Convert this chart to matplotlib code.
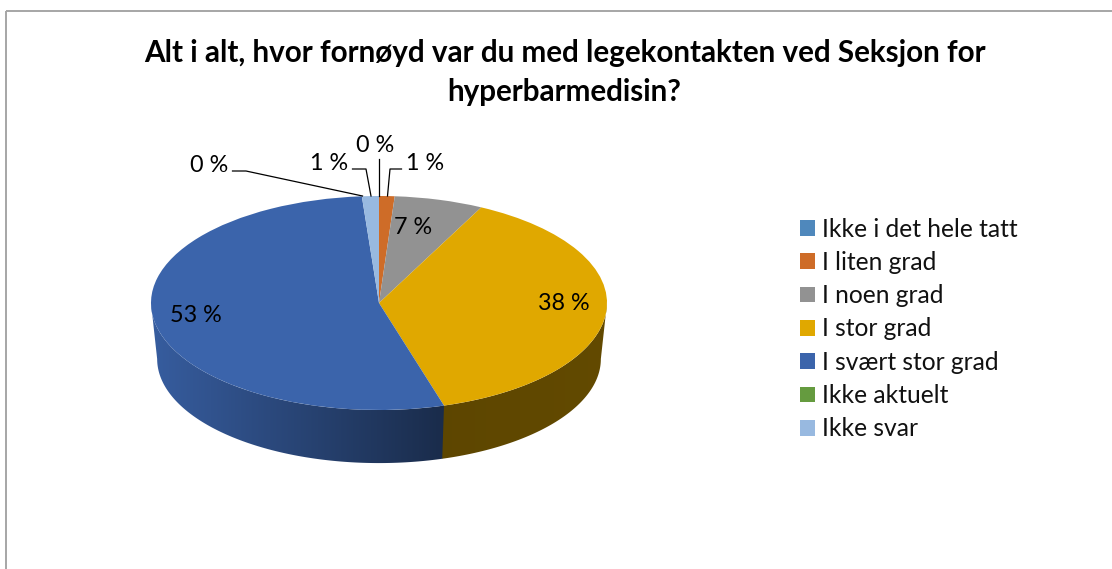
import numpy as np
import matplotlib
matplotlib.use('Agg')
import matplotlib.pyplot as plt
from matplotlib.colors import to_rgb
from matplotlib.patches import Polygon as MplPolygon, Rectangle
from matplotlib.lines import Line2D
from matplotlib.transforms import Affine2D

W, H = 1112, 569

TITLE = "Alt i alt, hvor fornøyd var du med legekontakten ved Seksjon for\nhyperbarmedisin?"
categories = ['Ikke i det hele tatt', 'I liten grad', 'I noen grad', 'I stor grad',
              'I svært stor grad', 'Ikke aktuelt', 'Ikke svar']
values = [0.0, 1.1, 6.3, 38.0, 53.4, 0.0, 1.2]
pct_labels = ['0 %', '1 %', '7 %', '38 %', '53 %', '0 %', '1 %']
colors = ['#4F88BC', '#CE6C28', '#929292', '#E0A800', '#3B64AB', '#659B3F', '#98B9E0']

plt.rcParams['font.family'] = ['Lato', 'DejaVu Sans']

fig = plt.figure(figsize=(W / 100, H / 100), dpi=100)
# pixel coords, y going down like the reference
px = Affine2D().scale(1, -1).translate(0, H)

# pie ellipse centre (379, 303), radii 228 x 107
XLIM = (-1.02, 1.02)
YLIM = (-1.6, 1.02)
left = 379 + XLIM[0] * 228
bottom_px = 303 - YLIM[0] * 107
ax = fig.add_axes([left / W, 1 - bottom_px / H,
                   (XLIM[1] - XLIM[0]) * 228 / W, (YLIM[1] - YLIM[0]) * 107 / H])
wedges, _ = ax.pie(values, colors=colors, startangle=90, counterclock=False, radius=1)

# lower rim of the side wall is a little smaller (perspective)
DROP = 0.523
RIM = 0.973


def wall_color(i, x):
    base = np.array(to_rgb(colors[i]))
    if i == 3:
        return base * (0.41 + 0.03 * x)
    # blue side gets darker going right
    t = np.clip((x + 1) / 1.28, 0, 1)
    return base * (0.93 - 0.49 * t)


for i, w in enumerate(wedges):
    lo, hi = max(w.theta1 + 360, 180), min(w.theta2 + 360, 360)
    if hi <= lo:
        continue
    # tuck the start under the next wall so no seam shows
    lo = max(lo - 0.5, 180)
    angs = np.radians(np.linspace(lo, hi, 200))
    top = np.column_stack([np.cos(angs), np.sin(angs)])
    low = np.column_stack([RIM * np.cos(angs), RIM * np.sin(angs) - DROP])
    shape = MplPolygon(np.vstack([top, low[::-1]]), closed=True, transform=ax.transData,
                       facecolor='none', edgecolor='none')
    ax.add_patch(shape)
    x0, x1 = top[:, 0].min(), top[:, 0].max()
    grad = np.array([[wall_color(i, x) for x in np.linspace(x0, x1, 256)]])
    im = ax.imshow(grad, extent=(x0, x1, -1.6, 0.1), aspect='auto',
                   interpolation='bilinear', zorder=0.5)
    im.set_clip_path(shape)

ax.set_aspect('auto')
ax.set_xlim(*XLIM)
ax.set_ylim(*YLIM)

# chart area border, right and bottom run off the picture
fig.add_artist(Rectangle((5.5, 10.5), 1200, 600, transform=px, fill=False,
                         edgecolor='#A6A6A6', linewidth=1.4))

fig.text(564.5 / W, 1 - 72.5 / H, TITLE, ha='center', va='center', fontsize=21.3,
         fontweight='bold', color='black', linespacing=1.45)

# data labels: index, x, y
label_pos = [(0, 209, 166), (6, 329, 164), (5, 375, 146), (1, 425.5, 164),
             (2, 413, 228), (3, 564, 304), (4, 196, 316)]
for i, x, y in label_pos:
    fig.text(x, y, pct_labels[i], transform=px, ha='center', va='center',
             fontsize=16.8, color='black')

leaders = [[(232.5, 171), (246, 171), (362.5, 196)],
           [(352.5, 169), (366, 169), (371, 196)],
           [(379, 159), (379, 196)],
           [(387.5, 196), (390, 169), (401.5, 169)]]
for pts in leaders:
    xs, ys = zip(*pts)
    fig.add_artist(Line2D(xs, ys, transform=px, color='black', linewidth=0.9))

fig.legend(wedges, categories, loc='upper left', bbox_to_anchor=(800 / W, 1 - 217.5 / H),
           frameon=False, fontsize=17.7, handlelength=0.61, handleheight=0.61,
           handletextpad=0.28, labelspacing=0.42, borderpad=0, borderaxespad=0,
           labelcolor='#111111')

fig.savefig('out.png', dpi=100)
plt.close(fig)
